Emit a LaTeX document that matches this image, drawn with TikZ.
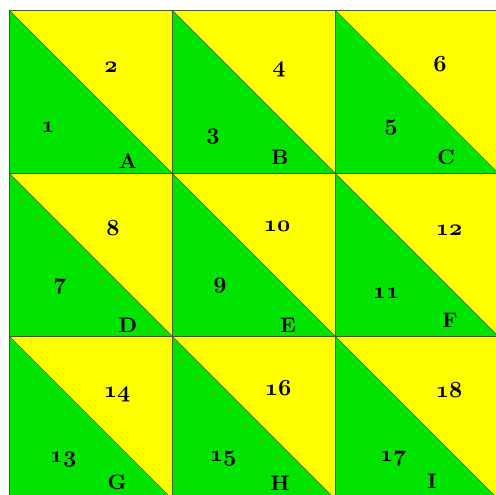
\documentclass[tikz,border=0pt]{standalone}
\usepackage{tikz}
\usetikzlibrary{calc}
\definecolor{LimeGreen}{RGB}{0,228,0}
\definecolor{BrightYellow}{RGB}{255,255,0}
\definecolor{EdgeGray}{RGB}{70,90,40}
\font\oldnumfont=cmmib10 at 23pt
\font\letterfont=cmbx10 at 21pt

\begin{document}
\begin{tikzpicture}[x=1pt,y=-1pt,
		num/.style={font=\oldnumfont},
		letter/.style={font=\letterfont}]
			\useasboundingbox (0,0) rectangle (496,495);
			\clip (0,0) rectangle (496,495);
			% cells
			\foreach \i in {0,1,2}{
				\foreach \j in {0,1,2}{
					\coordinate (P) at ({9+163*\i},{10+163*\j});
					\fill[BrightYellow] (P) rectangle ++(163,163);
					\fill[LimeGreen] (P) -- ++(0,163) -- ++(163,0) -- cycle;
					\draw[EdgeGray] (P) rectangle ++(163,163);
					\draw[EdgeGray] (P) -- ++(163,163);
				}
			}
			
			\node[num] (n1) at (48,127) {1};
			\node[num] (n2) at (111,67) {2};
			\node[num] (n3) at (213,137) {3};
			\node[num] (n4) at (279,70) {4};
			\node[num] (n5) at (391,128) {5};
			\node[num] (n6) at (440,64) {6};
			\node[num] (n7) at (60,287) {7};
			\node[num] (n8) at (113,228) {8};
			\node[num] (n9) at (220,286) {9};
			\node[num] (n10) at (277,226) {10};
			\node[num] (n11) at (386,293) {11};
			\node[num] (n12) at (449,230) {12};
			\node[num] (n13) at (63,460) {13};
			\node[num] (n14) at (117,395) {14};
			\node[num] (n15) at (223,459) {15};
			\node[num] (n16) at (278,388) {16};
			\node[num] (n17) at (393,459) {17};
			\node[num] (n18) at (449,390) {18};
			
			\node[letter] (A) at (128,161) {A};
			\node[letter] (B) at (280,157) {B};
			\node[letter] (C) at (446,157) {C};
			\node[letter] (D) at (128,325) {D};
			\node[letter] (E) at (288,325) {E};
			\node[letter] (F) at (450,320) {F};
			\node[letter] (G) at (117,482) {G};
			\node[letter] (H) at (280,483) {H};
			\node[letter] (I) at (432,481) {I};
		\end{tikzpicture}
\end{document}
